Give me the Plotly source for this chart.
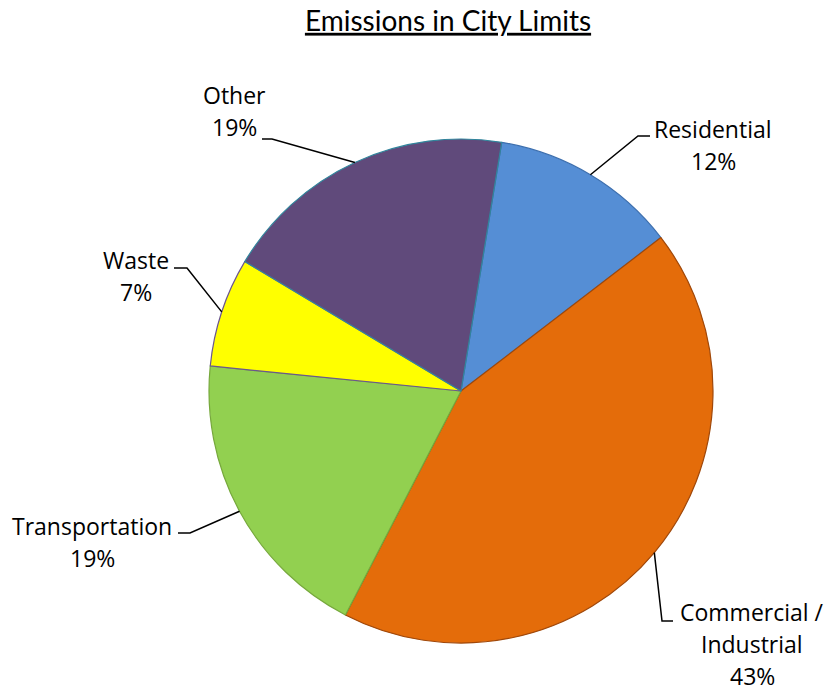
import math
import plotly.graph_objects as go

# Emission shares by sector (percent)
sectors = ["Residential", "Commercial / Industrial", "Transportation", "Waste", "Other"]
shares = [12, 43, 19, 7, 19]
fill_colors = ["#558ED5", "#E46C0A", "#92D050", "#FFFF00", "#604A7B"]
edge_colors = ["#3D6FAE", "#A0480A", "#76A83C", "#6B5690", "#31859C"]

W, H = 825, 691
CX, CY, R = 461, 391, 252     # pie centre and radius in pixels
START = 9.3                   # first slice starts this many degrees clockwise from 12 o'clock
LINE_GAP = 32                 # vertical distance between label lines (px)

# label layout: elbow point, end of horizontal tick, label centre x, first line y, line breaks
label_layout = [
    dict(elbow=(638, 136), tick=(650, 136), x=713, y=129, lines=["Residential"]),
    dict(elbow=(662, 621), tick=(673, 621), x=752, y=612, lines=["Commercial /", "Industrial"]),
    dict(elbow=(190, 533), tick=(178, 533), x=92, y=526, lines=["Transportation"]),
    dict(elbow=(187, 268), tick=(174, 268), x=136, y=260, lines=["Waste"]),
    dict(elbow=(272, 139), tick=(262, 139), x=234, y=95, lines=["Other"]),
]

LABEL_FONT = dict(family="'Open Sans', Lato, sans-serif", size=23, color="black")


def px(x):
    return x / W


def py(y):
    return 1 - y / H


fig = go.Figure(
    go.Pie(
        labels=sectors,
        values=shares,
        sort=False,
        direction="clockwise",
        rotation=START,
        marker=dict(colors=fill_colors, line=dict(color=edge_colors, width=1.2)),
        textinfo="none",
        hoverinfo="label+percent",
        domain=dict(x=[px(CX - R), px(CX + R)], y=[py(CY + R), py(CY - R)]),
        showlegend=False,
    )
)

shapes = []
annotations = []
total = sum(shares)
acc = 0.0
for val, lay in zip(shares, label_layout):
    mid = math.radians(START + (acc + val / 2) / total * 360)
    acc += val
    ax = CX + R * math.sin(mid)
    ay = CY - R * math.cos(mid)
    ex, ey = lay["elbow"]
    tx, ty = lay["tick"]
    shapes.append(dict(
        type="path", xref="paper", yref="paper",
        path=f"M {px(ax)} {py(ay)} L {px(ex)} {py(ey)} L {px(tx)} {py(ty)}",
        line=dict(color="black", width=1.5),
    ))
    pct = round(val / total * 100)
    for i, line in enumerate(lay["lines"] + [f"{pct}%"]):
        annotations.append(dict(
            x=px(lay["x"]), y=py(lay["y"] + i * LINE_GAP), xref="paper", yref="paper",
            text=line, showarrow=False,
            xanchor="center", yanchor="middle", align="center",
            font=LABEL_FONT,
        ))

fig.update_layout(
    width=W, height=H,
    margin=dict(l=0, r=0, t=0, b=0),
    paper_bgcolor="white",
    plot_bgcolor="white",
    title=dict(
        text="Emissions in City Limits",
        x=px(448), xanchor="center", y=py(21), yanchor="middle",
        font=dict(family="Lato, 'Noto Sans', sans-serif", size=28, color="black",
                  lineposition="under"),
    ),
    shapes=shapes,
    annotations=annotations,
)

fig.write_html("out.html")
